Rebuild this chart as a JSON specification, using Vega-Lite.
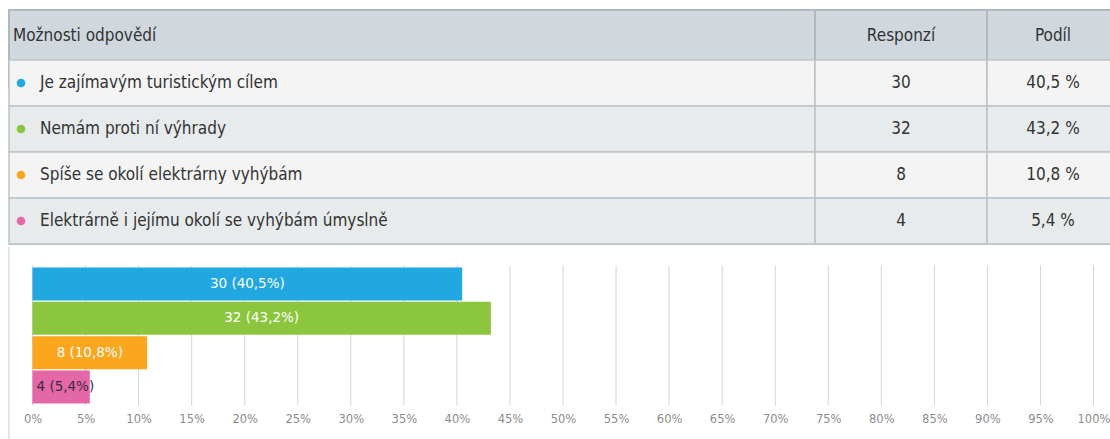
{
  "$schema": "https://vega.github.io/schema/vega-lite/v6.json",
  "padding": {"left": 7, "top": 8, "right": 0, "bottom": 0},
  "background": "white",
  "spacing": 0,
  "datasets": {
    "answers": [
      {"option": "Je zajímavým turistickým cílem", "count": 30, "share": 40.5, "podil": "40,5 %", "label": "30 (40,5%)"},
      {"option": "Nemám proti ní výhrady", "count": 32, "share": 43.2, "podil": "43,2 %", "label": "32 (43,2%)"},
      {"option": "Spíše se okolí elektrárny vyhýbám", "count": 8, "share": 10.8, "podil": "10,8 %", "label": "8 (10,8%)"},
      {"option": "Elektrárně i jejímu okolí se vyhýbám úmyslně", "count": 4, "share": 5.4, "podil": "5,4 %", "label": "4 (5,4%)"}
    ],
    "gridvals": [
      {"pct": 0}, {"pct": 5}, {"pct": 10}, {"pct": 15}, {"pct": 20}, {"pct": 25}, {"pct": 30},
      {"pct": 35}, {"pct": 40}, {"pct": 45}, {"pct": 50}, {"pct": 55}, {"pct": 60}, {"pct": 65},
      {"pct": 70}, {"pct": 75}, {"pct": 80}, {"pct": 85}, {"pct": 90}, {"pct": 95}, {"pct": 100}
    ]
  },
  "vconcat": [
    {
      "spacing": 0,
      "bounds": "flush",
      "hconcat": [
        {
          "width": 806, "height": 234,
          "view": {"stroke": "#b9c1c7"},
          "layer": [
            {
              "data": {"values": [{"h": "Možnosti odpovědí"}]},
              "encoding": {
                "x": {"datum": 0, "type": "quantitative", "scale": {"domain": [0, 1], "nice": false, "zero": false}, "axis": null},
                "y": {"field": "h", "type": "nominal", "axis": null, "scale": {"type": "band", "paddingInner": 0, "paddingOuter": 1.84, "align": 0}}
              },
              "layer": [
                {"mark": {"type": "rect", "fill": "#d0d8de", "stroke": "#b0b8bf", "strokeWidth": 2}, "encoding": {"x2": {"datum": 1}}},
                {"mark": {"type": "text", "align": "left", "dx": 4, "dy": -13, "font": "Liberation Sans Narrow, DejaVu Sans Condensed, sans-serif", "fontSize": 17, "color": "#333333"}, "encoding": {"text": {"field": "h"}}}
              ]
            },
            {
              "data": {"name": "answers"},
              "encoding": {
                "x": {"datum": 0, "type": "quantitative", "scale": {"domain": [0, 1], "nice": false, "zero": false}, "axis": null},
                "y": {"field": "option", "type": "nominal", "sort": null, "axis": null, "scale": {"type": "band", "paddingInner": 0, "paddingOuter": 0.5435, "align": 1}}
              },
              "layer": [
                {
                  "mark": {"type": "rect", "stroke": "#bcc3c9", "strokeWidth": 1.5},
                  "encoding": {
                    "x2": {"datum": 1},
                    "fill": {"field": "option", "type": "nominal", "sort": null, "legend": null, "scale": {"range": ["#f4f4f4", "#e7ebec", "#f4f4f4", "#e7ebec"]}}
                  }
                },
                {
                  "mark": {"type": "point", "filled": true, "size": 75, "opacity": 1, "xOffset": 12},
                  "encoding": {
                    "color": {"field": "option", "type": "nominal", "legend": null, "scale": {"domain": ["Je zajímavým turistickým cílem", "Nemám proti ní výhrady", "Spíše se okolí elektrárny vyhýbám", "Elektrárně i jejímu okolí se vyhýbám úmyslně"], "range": ["#21a8e0", "#8cc63e", "#fba61d", "#e467a8"]}}
                  }
                },
                {
                  "mark": {"type": "text", "align": "left", "dx": 31, "font": "Liberation Sans Narrow, DejaVu Sans Condensed, sans-serif", "fontSize": 17, "color": "#333333"},
                  "encoding": {"text": {"field": "option"}}
                }
              ]
            }
          ],
          "resolve": {"scale": {"y": "independent"}}
        },
        {
          "width": 172, "height": 234,
          "view": {"stroke": "#b9c1c7"},
          "layer": [
            {
              "data": {"values": [{"h": "Responzí"}]},
              "encoding": {
                "x": {"datum": 0, "type": "quantitative", "scale": {"domain": [0, 1], "nice": false, "zero": false}, "axis": null},
                "y": {"field": "h", "type": "nominal", "axis": null, "scale": {"type": "band", "paddingInner": 0, "paddingOuter": 1.84, "align": 0}}
              },
              "layer": [
                {"mark": {"type": "rect", "fill": "#d0d8de", "stroke": "#b0b8bf", "strokeWidth": 2}, "encoding": {"x2": {"datum": 1}}},
                {"mark": {"type": "text", "dy": -13, "font": "Liberation Sans Narrow, DejaVu Sans Condensed, sans-serif", "fontSize": 17, "color": "#333333"}, "encoding": {"x": {"datum": 0.5, "type": "quantitative"}, "text": {"field": "h"}}}
              ]
            },
            {
              "data": {"name": "answers"},
              "encoding": {
                "x": {"datum": 0, "type": "quantitative", "scale": {"domain": [0, 1], "nice": false, "zero": false}, "axis": null},
                "y": {"field": "option", "type": "nominal", "sort": null, "axis": null, "scale": {"type": "band", "paddingInner": 0, "paddingOuter": 0.5435, "align": 1}}
              },
              "layer": [
                {
                  "mark": {"type": "rect", "stroke": "#bcc3c9", "strokeWidth": 1.5},
                  "encoding": {
                    "x2": {"datum": 1},
                    "fill": {"field": "option", "type": "nominal", "sort": null, "legend": null, "scale": {"range": ["#f4f4f4", "#e7ebec", "#f4f4f4", "#e7ebec"]}}
                  }
                },
                {
                  "mark": {"type": "text", "font": "Liberation Sans Narrow, DejaVu Sans Condensed, sans-serif", "fontSize": 17, "color": "#333333"},
                  "encoding": {"x": {"datum": 0.5, "type": "quantitative"}, "text": {"field": "count"}}
                }
              ]
            }
          ],
          "resolve": {"scale": {"y": "independent"}}
        },
        {
          "width": 124, "height": 234,
          "view": {"stroke": "#b9c1c7"},
          "layer": [
            {
              "data": {"values": [{"h": "Podíl"}]},
              "encoding": {
                "x": {"datum": 0, "type": "quantitative", "scale": {"domain": [0, 1], "nice": false, "zero": false}, "axis": null},
                "y": {"field": "h", "type": "nominal", "axis": null, "scale": {"type": "band", "paddingInner": 0, "paddingOuter": 1.84, "align": 0}}
              },
              "layer": [
                {"mark": {"type": "rect", "fill": "#d0d8de", "stroke": "#b0b8bf", "strokeWidth": 2}, "encoding": {"x2": {"datum": 1}}},
                {"mark": {"type": "text", "dx": 4, "dy": -13, "font": "Liberation Sans Narrow, DejaVu Sans Condensed, sans-serif", "fontSize": 17, "color": "#333333"}, "encoding": {"x": {"datum": 0.5, "type": "quantitative"}, "text": {"field": "h"}}}
              ]
            },
            {
              "data": {"name": "answers"},
              "encoding": {
                "x": {"datum": 0, "type": "quantitative", "scale": {"domain": [0, 1], "nice": false, "zero": false}, "axis": null},
                "y": {"field": "option", "type": "nominal", "sort": null, "axis": null, "scale": {"type": "band", "paddingInner": 0, "paddingOuter": 0.5435, "align": 1}}
              },
              "layer": [
                {
                  "mark": {"type": "rect", "stroke": "#bcc3c9", "strokeWidth": 1.5},
                  "encoding": {
                    "x2": {"datum": 1},
                    "fill": {"field": "option", "type": "nominal", "sort": null, "legend": null, "scale": {"range": ["#f4f4f4", "#e7ebec", "#f4f4f4", "#e7ebec"]}}
                  }
                },
                {
                  "mark": {"type": "text", "dx": 4, "font": "Liberation Sans Narrow, DejaVu Sans Condensed, sans-serif", "fontSize": 17, "color": "#333333"},
                  "encoding": {"x": {"datum": 0.5, "type": "quantitative"}, "text": {"field": "podil"}}
                }
              ]
            }
          ],
          "resolve": {"scale": {"y": "independent"}}
        }
      ]
    },
    {
      "width": 1102, "height": 196,
      "view": {"stroke": null},
      "layer": [
        {
          "data": {"name": "gridvals"},
          "mark": {"type": "rule", "color": "#d4d4d4", "strokeWidth": 1},
          "encoding": {
            "x": {"field": "pct", "type": "quantitative", "scale": {"domain": [-2.215, 101.65], "nice": false, "zero": false}, "axis": null},
            "y": {"datum": 0, "type": "quantitative", "scale": {"domain": [-0.26786, 1.13214], "nice": false, "zero": false}, "axis": null},
            "y2": {"datum": 1}
          }
        },
        {
          "data": {"name": "answers"},
          "mark": {"type": "bar"},
          "encoding": {
            "x": {"field": "share", "type": "quantitative", "scale": {"domain": [-2.215, 101.65], "nice": false, "zero": false},
              "axis": {"values": [0, 5, 10, 15, 20, 25, 30, 35, 40, 45, 50, 55, 60, 65, 70, 75, 80, 85, 90, 95, 100], "labelExpr": "datum.value + '%'", "title": null, "domain": false, "ticks": false, "tickSize": 0, "grid": false, "offset": -36, "labelColor": "#8c8c8c", "labelFont": "DejaVu Sans", "labelFontSize": 11.5, "labelPadding": 6, "labelFlush": false}},
            "x2": {"datum": 0},
            "y": {"field": "option", "type": "nominal", "sort": null, "axis": null, "scale": {"type": "band", "domain": ["Je zajímavým turistickým cílem", "Nemám proti ní výhrady", "Spíše se okolí elektrárny vyhýbám", "Elektrárně i jejímu okolí se vyhýbám úmyslně"], "paddingInner": 0.04, "paddingOuter": 0.8746, "align": 0.3415}},
            "color": {"field": "option", "type": "nominal", "legend": null, "scale": {"domain": ["Je zajímavým turistickým cílem", "Nemám proti ní výhrady", "Spíše se okolí elektrárny vyhýbám", "Elektrárně i jejímu okolí se vyhýbám úmyslně"], "range": ["#21a8e0", "#8cc63e", "#fba61d", "#e467a8"]}}
          }
        },
        {
          "data": {"name": "answers"},
          "transform": [{"filter": "datum.share > 8"}],
          "mark": {"type": "text", "color": "white", "font": "DejaVu Sans", "fontSize": 13.5},
          "encoding": {
            "x": {"field": "share", "type": "quantitative", "scale": {"domain": [-4.43, 203.3], "nice": false, "zero": false}, "axis": null},
            "y": {"field": "option", "type": "nominal", "sort": null, "axis": null, "scale": {"type": "band", "domain": ["Je zajímavým turistickým cílem", "Nemám proti ní výhrady", "Spíše se okolí elektrárny vyhýbám", "Elektrárně i jejímu okolí se vyhýbám úmyslně"], "paddingInner": 0.04, "paddingOuter": 0.8746, "align": 0.3415}},
            "text": {"field": "label"}
          }
        },
        {
          "data": {"name": "answers"},
          "transform": [{"filter": "datum.share <= 8"}],
          "mark": {"type": "text", "align": "left", "dx": 4, "color": "#3a2a3a", "font": "DejaVu Sans", "fontSize": 13.5},
          "encoding": {
            "x": {"datum": 0, "type": "quantitative", "scale": {"domain": [-2.215, 101.65], "nice": false, "zero": false}, "axis": null},
            "y": {"field": "option", "type": "nominal", "sort": null, "axis": null, "scale": {"type": "band", "domain": ["Je zajímavým turistickým cílem", "Nemám proti ní výhrady", "Spíše se okolí elektrárny vyhýbám", "Elektrárně i jejímu okolí se vyhýbám úmyslně"], "paddingInner": 0.04, "paddingOuter": 0.8746, "align": 0.3415}},
            "text": {"field": "label"}
          }
        },
        {
          "data": {"values": [{"edge": -2.215}]},
          "mark": {"type": "rule", "color": "#c9cdd1", "strokeWidth": 1},
          "encoding": {
            "x": {"field": "edge", "type": "quantitative", "scale": {"domain": [-2.215, 101.65], "nice": false, "zero": false}, "axis": null}
          }
        }
      ],
      "resolve": {"scale": {"x": "independent", "y": "independent", "color": "independent"}}
    }
  ]
}
